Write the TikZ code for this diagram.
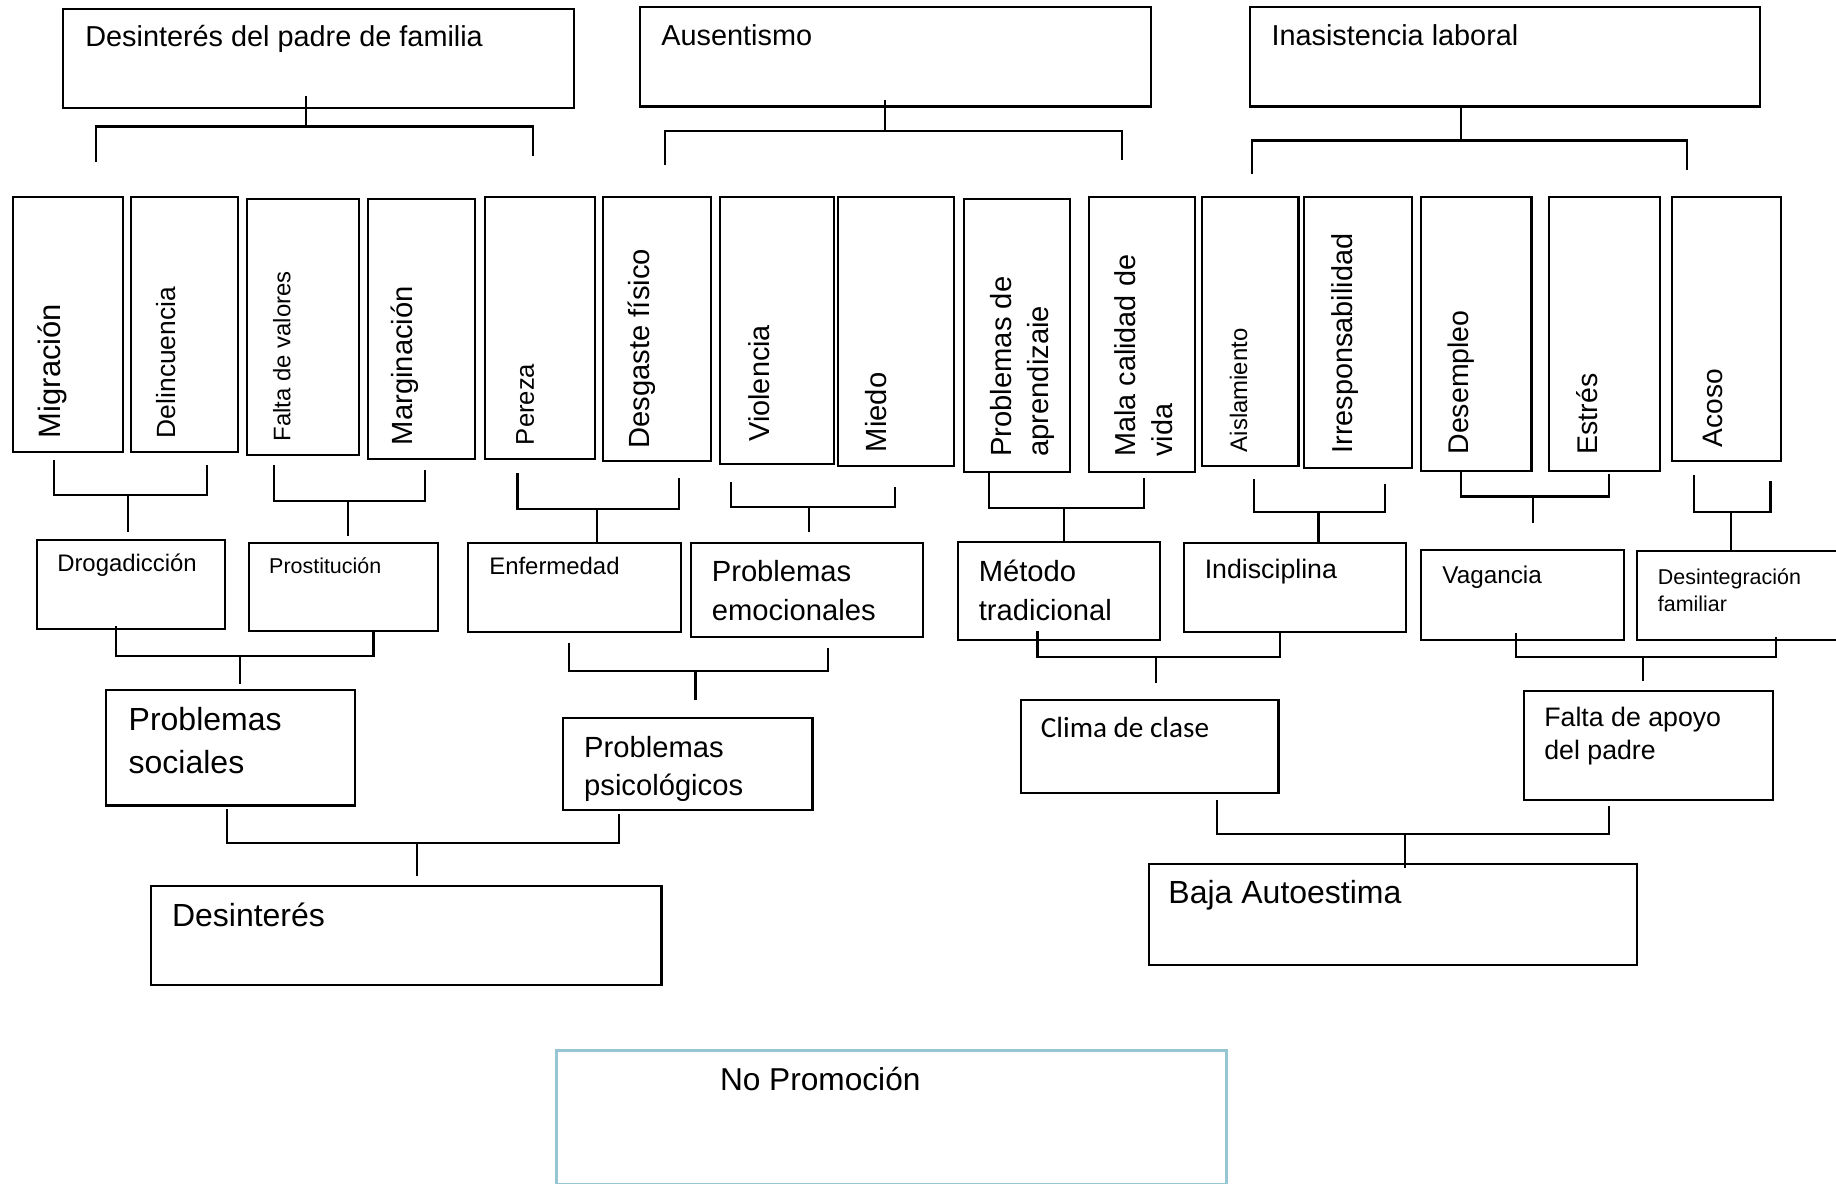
\documentclass[tikz,border=0pt]{standalone}
\usepackage{fontspec}
\setmainfont{Liberation Sans}
\newfontfamily\clima{Carlito}
\newcommand\px{0.011709cm}
\newcommand\fsz[2]{\fontsize{#1}{#2}\selectfont}
\definecolor{promo}{RGB}{150,198,212}

\begin{document}
\begin{tikzpicture}[x=\px, y=-\px, line width=0.6pt,
    box/.style 2 args={draw, anchor=north west, inner sep=0pt, minimum width=#1*\px, minimum height=#2*\px},
    txt/.style={anchor=base west, inner sep=0pt, font=\fsz{#1}{#1}},
    two/.style 2 args={anchor=north west, inner sep=0pt, align=left, font=\fsz{#1}{#2}},
    vtxt/.style={rotate=90, anchor=base west, inner sep=0pt, font=\fsz{#1}{#1}},
    vtwo/.style 2 args={rotate=90, anchor=north west, inner sep=0pt, align=left, font=\fsz{#1}{#2}}]

    \useasboundingbox (0,0) rectangle (1568,1011);

    % Upper boxes
    \node[box={436}{84}] (padre) at (53,7) {};
    \node[box={436}{85}] (ausen) at (546,5) {};
    \node[box={435}{85}] (inasis) at (1067,5) {};
    \node[txt=8.2] (padre-t) at (72,40) {Desinterés del padre de familia};
    \node[txt=8.2] (ausen-t) at (564,39) {Ausentismo};
    \node[txt=8.2] (inasis-t) at (1085,39) {Inasistencia laboral};

    % Causes (vertical boxes)
    \node[box={94}{218}] (mig) at (10,167) {};
    \node[box={91}{218}] (del) at (111,167) {};
    \node[box={96}{219}] (fal) at (210,169) {};
    \node[box={92}{222}] (mar) at (313,169) {};
    \node[box={94}{224}] (per) at (413,167) {};
    \node[box={92}{226}] (desg) at (514,167) {};
    \node[box={97}{228}] (vio) at (614,167) {};
    \node[box={99}{230}] (mie) at (715,167) {};
    \node[box={91}{233}] (apr) at (822,169) {};
    \node[box={91}{235}] (mal) at (929,167) {};
    \node[box={82}{230}] (ais) at (1026,167) {};
    \node[box={92}{232}] (irr) at (1113,167) {};
    \node[box={94}{234}] (dem) at (1213,167) {};
    \node[box={95}{234}] (est) at (1322,167) {};
    \node[box={93}{226}] (aco) at (1427,167) {};

    \node[vtxt=8.8] (mig-t) at (52,375) {Migración};
    \node[vtxt=7.5] (del-t) at (150,375) {Delincuencia};
    \node[vtxt=6.8] (fal-t) at (248,378) {Falta de valores};
    \node[vtxt=8.3] (mar-t) at (352,381) {Marginación};
    \node[vtxt=7.3] (per-t) at (456,381) {Pereza};
    \node[vtxt=8.3] (desg-t) at (555,384) {Desgaste físico};
    \node[vtxt=8.2] (vio-t) at (657,378) {Violencia};
    \node[vtxt=8.3] (mie-t) at (757,387) {Miedo};
    \node[vtwo={8.3}{10.4}] (apr-t) at (845,391) {Problemas de\\aprendizaie};
    \node[vtwo={8.2}{10.4}] (mal-t) at (951,391) {Mala calidad de\\vida};
    \node[vtxt=6.8] (ais-t) at (1065,387) {Aislamiento};
    \node[vtxt=8.2] (irr-t) at (1155,388) {Irresponsabilidad};
    \node[vtxt=8.1] (dem-t) at (1254,389) {Desempleo};
    \node[vtxt=8.1] (est-t) at (1364,389) {Estrés};
    \node[vtxt=8.0] (aco-t) at (1471,383) {Acoso};

    % Middle boxes
    \node[box={160}{76}] (dro) at (31,460) {};
    \node[box={161}{75}] (pro) at (212,463) {};
    \node[box={182}{76}] (enf) at (399,463) {};
    \node[box={198}{80}] (emo) at (589,463) {};
    \node[box={173}{84}] (met) at (817,462) {};
    \node[box={190}{76}] (ind) at (1010,463) {};
    \node[box={173}{77}] (vag) at (1213,469) {};
    \node[box={180}{76}] (dfa) at (1397,470) {};

    \node[txt=6.8] (dro-t) at (48,488) {Drogadicción};
    \node[txt=6.1] (pro-t) at (229,490) {Prostitución};
    \node[txt=6.8] (enf-t) at (417,491) {Enfermedad};
    \node[two={8.3}{10.9}] (emo-t) at (607,478) {Problemas\\emocionales};
    \node[two={8.3}{11.1}] (met-t) at (835,477) {Método\\tradicional};
    \node[txt=7.6] (ind-t) at (1028,494) {Indisciplina};
    \node[txt=6.9] (vag-t) at (1231,498) {Vagancia};
    \node[two={6.1}{7.6}] (dfa-t) at (1415,485) {Desintegración\\familiar};

    % Lower boxes
    \node[box={212}{99}] (soc) at (90,588) {};
    \node[box={213}{79}] (psi) at (480,612) {};
    \node[box={220}{79}] (cli) at (871,597) {};
    \node[box={212}{93}] (apo) at (1301,589) {};

    \node[two={9.1}{12.3}] (soc-t) at (109,603) {Problemas\\sociales};
    \node[two={8.3}{10.9}] (psi-t) at (498,628) {Problemas\\psicológicos};
    \node[txt=8.3, font=\clima\fsz{8.3}{10}] (cli-t) at (888,630) {Clima de clase};
    \node[two={7.6}{9.5}] (apo-t) at (1318,603) {Falta de apoyo\\del padre};

    \node[box={436}{84}] (des) at (128,756) {};
    \node[box={417}{86}] (baj) at (980,737) {};
    \node[box={572}{114}, draw=promo, line width=0.9pt] (nop) at (474,896) {};

    \node[txt=9.1] (des-t) at (146,791) {Desinterés};
    \node[txt=9.1] (baj-t) at (997,772) {Baja Autoestima};
    \node[txt=9.0] (nop-t) at (614,931) {No Promoción};

    % Brackets below the upper boxes
    \coordinate (j-padre) at (261,108);
    \coordinate (j-ausen) at (756,112);
    \coordinate (j-inasis) at (1248,120);
    \draw (82,138) |- (j-padre) -| (455,133);
    \draw[shorten >=-11*\px] (j-padre) -- (j-padre |- padre.south);
    \draw (568,141) |- (j-ausen) -| (958,137);
    \draw[shorten >=-6*\px] (j-ausen) -- (j-ausen |- ausen.south);
    \draw (1069,149) |- (j-inasis) -| (1441,145);
    \draw (j-inasis) -- (j-inasis |- inasis.south);

    % Brackets between causes and middle boxes
    \coordinate (j-dro) at (109,423);
    \coordinate (j-pro) at (297,428);
    \coordinate (j-enf) at (510,435);
    \coordinate (j-emo) at (691,433);
    \coordinate (j-met) at (909,434);
    \coordinate (j-ind) at (1126,437);
    \coordinate (j-vag) at (1309,424);
    \coordinate (j-dfa) at (1478,437);
    \draw (46,393) |- (j-dro) -| (177,397);
    \draw[shorten >=6*\px] (j-dro) -- (j-dro |- dro.north);
    \draw (234,397) |- (j-pro) -| (363,401);
    \draw[shorten >=5*\px] (j-pro) -- (j-pro |- pro.north);
    \draw (442,404) |- (j-enf) -| (580,408);
    \draw (j-enf) -- (j-enf |- enf.north);
    \draw (624,412) |- (j-emo) -| (764,416);
    \draw[shorten >=9*\px] (j-emo) -- (j-emo |- emo.north);
    \draw (845,404) |- (j-met) -| (977,408);
    \draw (j-met) -- (j-met |- met.north);
    \draw (1071,409) |- (j-ind) -| (1183,413);
    \draw (j-ind) -- (j-ind |- ind.north);
    \draw (1248,401) |- (j-vag) -| (1374,405);
    \draw[shorten >=22*\px] (j-vag) -- (j-vag |- vag.north);
    \draw (1447,406) |- (j-dfa) -| (1512,411);
    \draw (j-dfa) -- (j-dfa |- dfa.north);

    % Brackets between middle and lower boxes
    \coordinate (j-soc) at (205,560);
    \coordinate (j-psi) at (594,573);
    \coordinate (j-cli) at (987,561);
    \coordinate (j-apo) at (1403,561);
    \draw (99,535) |- (j-soc) -| (319,539);
    \draw[shorten >=4*\px] (j-soc) -- (j-soc |- soc.north);
    \draw (486,549) |- (j-psi) -| (707,553);
    \draw[shorten >=14*\px] (j-psi) -- (j-psi |- psi.north);
    \draw (886,539) |- (j-cli) -| (1093,541);
    \draw[shorten >=14*\px] (j-cli) -- (j-cli |- cli.north);
    \draw (1295,541) |- (j-apo) -| (1517,544);
    \draw[shorten >=7*\px] (j-apo) -- (j-apo |- apo.north);

    % Brackets to the effects
    \coordinate (j-des) at (356,720);
    \coordinate (j-baj) at (1200,712);
    \draw (194,691) |- (j-des) -| (529,695);
    \draw[shorten >=8*\px] (j-des) -- (j-des |- des.north);
    \draw (1039,683) |- (j-baj) -| (1374,688);
    \draw[shorten >=-4*\px] (j-baj) -- (j-baj |- baj.north);
\end{tikzpicture}
\end{document}
